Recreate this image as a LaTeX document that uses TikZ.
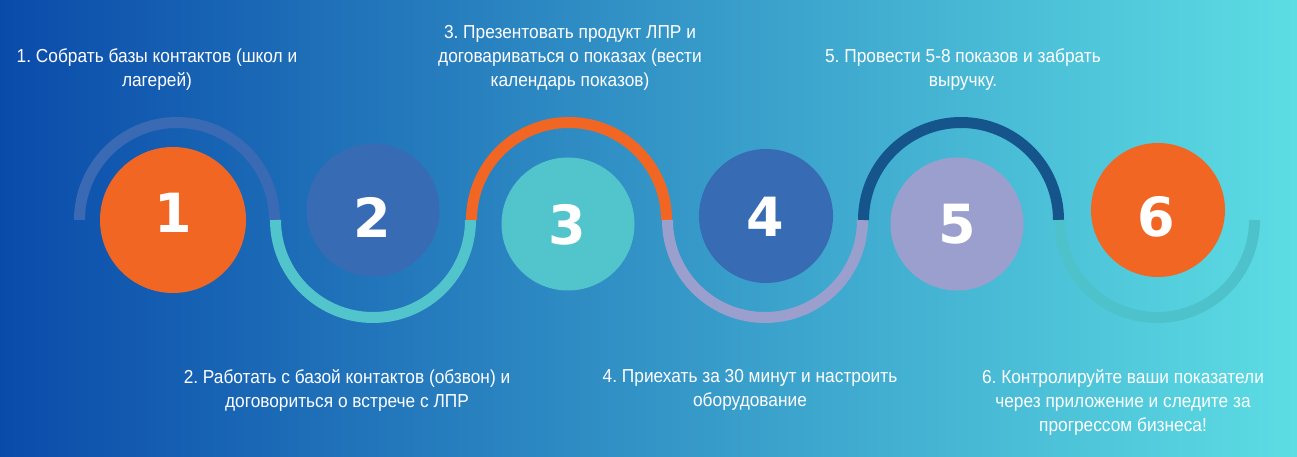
\documentclass[tikz,border=0pt]{standalone}
\usepackage{fontspec}
\setmainfont{Liberation Sans}[FakeStretch=0.92]
\newfontfamily\digitfont{DejaVu Sans}
\usepackage{tikz}
\usetikzlibrary{math}
\usetikzlibrary{positioning}
\frenchspacing
\definecolor{bgleft}{HTML}{0A4BAA}
\definecolor{bgright}{HTML}{5CDDE3}
\definecolor{steporange}{HTML}{F26624}
\definecolor{stepblue}{HTML}{376CB4}
\definecolor{stepteal}{HTML}{52C4CB}
\definecolor{steplilac}{HTML}{9A9FCD}
\definecolor{stepdark}{HTML}{15558B}
\definecolor{arcblue}{HTML}{3A6AB3}
\definecolor{arcteal}{HTML}{4EC2CA}

\begin{document}
\begin{tikzpicture}[x=1pt, y=1pt,
  disc/.style={circle, inner sep=0pt, minimum size=#1},
  digit/.style={inner sep=0pt, text=white, font=\digitfont\bfseries\fontsize{54}{54}\selectfont},
  caption/.style={align=center, inner sep=0pt, text=white, font=\fontsize{18.8}{24}\selectfont},
  band/.style={line width=11pt}]
  \tikzmath{
    \sx = 196;
    \cy = 237;
    \r = 97.5;
  }

  % background
  \shade [left color=bgleft, right color=bgright] (0, 0) rectangle (1297, 457);
  \useasboundingbox (0, 0) rectangle (1297, 457);

  % half rings
  \foreach \i/\col/\a in {1/arcblue/0, 2/stepteal/180, 3/steporange/0, 4/steplilac/180, 5/stepdark/0, 6/arcteal/180} {
    \tikzmath{
      \xc = 177 + (\i-1)*\sx;
    }
    \draw [band, \col] (\xc, \cy) ++(\a:\r) arc[start angle=\a, end angle=\a+180, radius=\r];
  }

  % discs
  \node [disc=146pt, fill=steporange] (c1) at (173, 237) {};
  \node [disc=133pt, fill=stepblue] (c2) at (373, 247) {};
  \node [disc=133pt, fill=stepteal] (c3) at (568, 233) {};
  \node [disc=134pt, fill=stepblue] (c4) at (766, 241) {};
  \node [disc=133pt, fill=steplilac] (c5) at (957, 233) {};
  \node [disc=134pt, fill=steporange] (c6) at (1158, 247) {};

  % digits
  \foreach \i/\x/\y in {1/173/244, 2/372/240, 3/567/232, 4/765/240, 5/957/233, 6/1156/240} {
    \node [digit] (d\i) at (\x, \y) {\i};
  }

  % captions
  \node [caption] (t1) at (157, 387) {1. Собрать базы контактов (школ и\\лагерей)};
  \node [caption] (t2) at (347, 67) {2. Работать с базой контактов (обзвон) и\\договориться о встрече с ЛПР};
  \node [caption] (t3) at (570, 399) {3. Презентовать продукт ЛПР и\\договариваться о показах (вести\\календарь показов)};
  \node [caption] (t4) at (750, 67) {4. Приехать за 30 минут и настроить\\оборудование};
  \node [caption] (t5) at (963, 387) {5. Провести 5-8 показов и забрать\\выручку.};
  \node [caption] (t6) at (1123, 55) {6. Контролируйте ваши показатели\\через приложение и следите за\\прогрессом бизнеса!};
\end{tikzpicture}
\end{document}
